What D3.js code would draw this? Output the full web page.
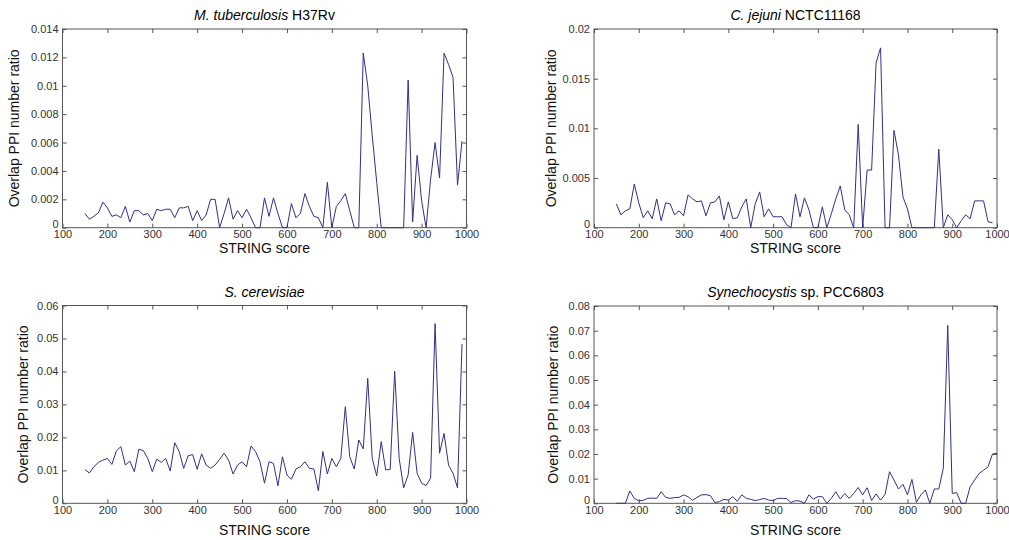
<!DOCTYPE html>
<html>
<head>
<meta charset="utf-8">
<script src="https://cdn.jsdelivr.net/npm/d3@7"></script>
<style>
    body { margin: 0; background: #fff; }
    svg { display: block; font-family: "Liberation Sans", Arial, sans-serif; }
    .tick text { fill: #333; font-size: 11px; }
    .tick line { stroke: #555; }
</style>
</head>
<body>
<svg width="1009" height="540" class="chart"></svg>
<script>
const WIDTH = 1009,
      HEIGHT = 540,
      TICK = 4,
      LINE_COLOR = '#303088';

// STRING score bins
const scores = [150, 160, 170, 180, 190, 200, 210, 220, 230, 240, 250, 260, 270, 280, 290,
    300, 310, 320, 330, 340, 350, 360, 370, 380, 390, 400, 410, 420, 430, 440, 450, 460,
    470, 480, 490, 500, 510, 520, 530, 540, 550, 560, 570, 580, 590, 600, 610, 620, 630,
    640, 650, 660, 670, 680, 690, 700, 710, 720, 730, 740, 750, 760, 770, 780, 790, 800,
    810, 820, 830, 840, 850, 860, 870, 880, 890, 900, 910, 920, 930, 940, 950, 960, 970,
    980, 990];
const scoresSyn = scores.concat([1000]);

const xTicks = [100, 200, 300, 400, 500, 600, 700, 800, 900, 1000];

// overlap PPI number ratios
const mtbValues = [0.0010, 0.0006, 0.0008, 0.00105, 0.0018, 0.0014, 0.0008, 0.0009, 0.0007, 0.0015,
    0.0004, 0.0012, 0.0012, 0.0009, 0.0010, 0.0005, 0.0013, 0.0012, 0.0013, 0.0013, 0.0007,
    0.0014, 0.0014, 0.0015, 0.0005, 0.0012, 0.0005, 0.0009, 0.0020, 0.0020, 0, 0.0010,
    0.0021, 0.0006, 0.0012, 0.0007, 0.0013, 0.0007, 0, 0, 0.0021, 0.0008, 0.0021, 0.0010,
    0, 0, 0.0017, 0.0007, 0.0010, 0.0024, 0.0015, 0.0008, 0.0007, 0, 0.0032, 0, 0.0015,
    0.0019, 0.0024, 0.0012, 0, 0, 0.0123, 0.0100, 0.0065, 0.0032, 0, 0, 0, 0, 0, 0,
    0.0104, 0.0004, 0.0051, 0.0019, 0, 0.0034, 0.0060, 0.0035, 0.0123, 0.0115, 0.0106,
    0.0030, 0.0061];

const cjeValues = [0.0024, 0.0013, 0.0017, 0.0019, 0.0044, 0.0025, 0.0010, 0.0017, 0.0009, 0.0029,
    0.0007, 0.0025, 0.0024, 0.0013, 0.0017, 0.0012, 0.0033, 0.0029, 0.0026, 0.0027, 0.0012,
    0.0025, 0.0026, 0.0032, 0.0008, 0.0026, 0.0009, 0.0010, 0.0021, 0.0029, 0, 0.0024,
    0.0036, 0.0011, 0.0019, 0.0011, 0.0011, 0.0011, 0.0003, 0, 0.0034, 0.0011, 0.0030,
    0.0018, 0, 0, 0.0021, 0, 0.0014, 0.0029, 0.0042, 0.0018, 0.0013, 0, 0.0104, 0, 0.0058,
    0.0058, 0.0166, 0.0181, 0, 0, 0.0098, 0.0073, 0.0031, 0.0019, 0, 0, 0, 0, 0, 0,
    0.0079, 0, 0.0013, 0.0008, 0, 0.0007, 0.0013, 0.0009, 0.0027, 0.0027, 0.0027, 0.0006,
    0.0005];

const sceValues = [0.0102, 0.0092, 0.0111, 0.0124, 0.0131, 0.0136, 0.0118, 0.0159, 0.0172, 0.0116,
    0.0128, 0.0096, 0.0164, 0.0160, 0.0136, 0.0096, 0.0134, 0.0124, 0.0136, 0.0098, 0.0184,
    0.0157, 0.0106, 0.0144, 0.0148, 0.0103, 0.0150, 0.0116, 0.0106, 0.0116, 0.0133, 0.0152,
    0.0131, 0.0089, 0.0116, 0.0126, 0.0111, 0.0174, 0.0157, 0.0126, 0.0061, 0.0126, 0.0121,
    0.0053, 0.0141, 0.0086, 0.0073, 0.0104, 0.0111, 0.0126, 0.0106, 0.0104, 0.0038, 0.0157,
    0.0089, 0.0136, 0.0111, 0.0136, 0.0293, 0.0141, 0.0104, 0.0192, 0.0165, 0.0379, 0.0136,
    0.0083, 0.0187, 0.0101, 0.0103, 0.0401, 0.0136, 0.0047, 0.0086, 0.0215, 0.0091, 0.0061,
    0.0054, 0.0076, 0.0545, 0.0152, 0.0212, 0.0116, 0.0091, 0.0047, 0.0483];

const synValues = [0, 0, 0, 0.0050, 0.0020, 0.0010, 0.0012, 0.0020, 0.0021, 0.0020, 0.0047, 0.0024,
    0.0020, 0.0023, 0.0024, 0.0034, 0.0027, 0.0012, 0.0024, 0.0034, 0.0035, 0.0031, 0.0003,
    0.0007, 0.0016, 0.0013, 0.0027, 0.0008, 0.0034, 0.0020, 0.0016, 0.0011, 0.0015, 0.0020,
    0.0013, 0.0011, 0.0020, 0.0020, 0.0019, 0.0003, 0.0011, 0.0009, 0, 0.0034, 0.0017,
    0.0027, 0.0027, 0, 0.0020, 0.0047, 0.0017, 0.0040, 0.0020, 0.0040, 0.0064, 0.0034,
    0.0063, 0.0011, 0.0038, 0.0013, 0.0036, 0.0128, 0.0094, 0.0058, 0.0077, 0.0034, 0.0097,
    0.0004, 0.0034, 0.0054, 0, 0.0058, 0.0058, 0.0141, 0.0721, 0.0040, 0.0043, 0, 0, 0.0067,
    0.0094, 0.0121, 0.0134, 0.0148, 0.0200, 0.0202];

// y tick labels as shown
const mtbTicks = [0, 0.002, 0.004, 0.006, 0.008, 0.01, 0.012, 0.014];
const cjeTicks = [0, 0.005, 0.01, 0.015, 0.02];
const sceTicks = [0, 0.01, 0.02, 0.03, 0.04, 0.05, 0.06];
const synTicks = [0, 0.01, 0.02, 0.03, 0.04, 0.05, 0.06, 0.07, 0.08];

// titles: [italic part, plain part]
const titles = [
    ['M. tuberculosis', ' H37Rv'],
    ['C. jejuni', ' NCTC11168'],
    ['S. cerevisiae', ''],
    ['Synechocystis', ' sp. PCC6803']
];

const panels = [
    { xs: scores, ys: mtbValues, yt: mtbTicks, title: titles[0],
      left: 62.5, right: 466.5, top: 29, bottom: 227.7, ylabX: 14, titleY: 20, xlabY: 25 },
    { xs: scores, ys: cjeValues, yt: cjeTicks, title: titles[1],
      left: 594, right: 997, top: 29, bottom: 227.7, ylabX: 551, titleY: 20, xlabY: 25 },
    { xs: scores, ys: sceValues, yt: sceTicks, title: titles[2],
      left: 62.5, right: 466.5, top: 305.5, bottom: 503.3, ylabX: 23, titleY: 296.5, xlabY: 31.5 },
    { xs: scoresSyn, ys: synValues, yt: synTicks, title: titles[3],
      left: 594, right: 997, top: 306, bottom: 503.3, ylabX: 553, titleY: 296.5, xlabY: 31.5 }
];

const svg = d3.select('.chart');

svg.append('rect')
    .attr('width', WIDTH)
    .attr('height', HEIGHT)
    .attr('fill', '#fff');

function drawPanel(p) {
    let x = d3.scaleLinear()
        .domain([100, 1000])
        .range([p.left, p.right]);

    let y = d3.scaleLinear()
        .domain([0, p.yt[p.yt.length - 1]])
        .range([p.bottom, p.top]);

    let g = svg.append('g');

    // inward ticks on all four sides, labels only bottom/left
    g.append('g')
        .attr('transform', `translate(0,${p.bottom})`)
        .call(d3.axisBottom(x).tickValues(xTicks).tickSizeInner(-TICK).tickSizeOuter(0).tickPadding(3).tickFormat(d3.format('d')))
        .select('.domain').remove();

    g.append('g')
        .attr('transform', `translate(0,${p.top})`)
        .call(d3.axisTop(x).tickValues(xTicks).tickSizeInner(-TICK).tickSizeOuter(0).tickFormat(''))
        .select('.domain').remove();

    let yAx = g.append('g')
        .attr('transform', `translate(${p.left},0)`)
        .call(d3.axisLeft(y).tickValues(p.yt).tickSizeInner(-TICK).tickSizeOuter(0).tickPadding(4).tickFormat(d3.format('~g')));
    yAx.select('.domain').remove();
    // matlab lifts the zero label a bit above the corner
    yAx.selectAll('.tick text')
        .filter(d => d === 0)
        .attr('y', -3.5);

    g.append('g')
        .attr('transform', `translate(${p.right},0)`)
        .call(d3.axisRight(y).tickValues(p.yt).tickSizeInner(-TICK).tickSizeOuter(0).tickFormat(''))
        .select('.domain').remove();

    // axes box
    g.append('rect')
        .attr('x', p.left)
        .attr('y', p.top)
        .attr('width', p.right - p.left)
        .attr('height', p.bottom - p.top)
        .attr('fill', 'none')
        .attr('stroke', '#555')
        .attr('stroke-width', 1);

    let line = d3.line()
        .x((d, i) => x(p.xs[i]))
        .y(d => y(d));

    g.append('path')
        .datum(p.ys)
        .attr('d', line)
        .attr('fill', 'none')
        .attr('stroke', LINE_COLOR)
        .attr('stroke-width', 1);

    let t = g.append('text')
        .attr('x', (p.left + p.right) / 2)
        .attr('y', p.titleY)
        .attr('text-anchor', 'middle')
        .style('font-size', '14px')
        .attr('fill', '#000');
    t.append('tspan').style('font-style', 'italic').text(p.title[0]);
    if (p.title[1]) t.append('tspan').text(p.title[1]);

    g.append('text')
        .attr('x', (p.left + p.right) / 2)
        .attr('y', p.bottom + p.xlabY)
        .attr('text-anchor', 'middle')
        .style('font-size', '14px')
        .attr('fill', '#111')
        .text('STRING score');

    g.append('text')
        .attr('transform', `translate(${p.ylabX},${(p.top + p.bottom) / 2}) rotate(-90)`)
        .attr('text-anchor', 'middle')
        .attr('dy', '0.35em')
        .style('font-size', '14px')
        .attr('fill', '#111')
        .text('Overlap PPI number ratio');
}

panels.forEach(drawPanel);
</script>
</body>
</html>
